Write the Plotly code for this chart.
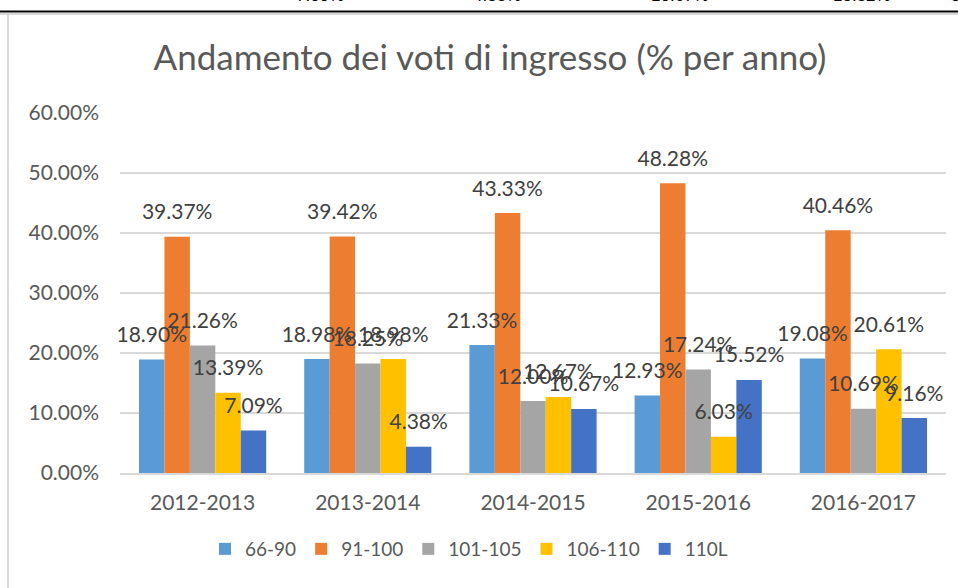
import plotly.graph_objects as go

years = ["2012-2013", "2013-2014", "2014-2015", "2015-2016", "2016-2017"]
series_names = ["66-90", "91-100", "101-105", "106-110", "110L"]
v_66_90 = [18.90, 18.98, 21.33, 12.93, 19.08]
v_91_100 = [39.37, 39.42, 43.33, 48.28, 40.46]
v_101_105 = [21.26, 18.25, 12.00, 17.24, 10.69]
v_106_110 = [13.39, 18.98, 12.67, 6.03, 20.61]
v_110L = [7.09, 4.38, 10.67, 15.52, 9.16]
y_ticks = [0, 10, 20, 30, 40, 50, 60]

colors = ["#5B9BD5", "#ED7D31", "#A5A5A5", "#FFC000", "#4472C4"]
all_values = [v_66_90, v_91_100, v_101_105, v_106_110, v_110L]

W, H = 958, 588
L, R, T, B = 120, 12, 113, 115
pw, ph = W - L - R, H - T - B

def px_x(p):
    return (p - L) / pw

def px_y(p):
    return (H - B - p) / ph

FONT = "Lato"
fig = go.Figure()

for name, vals, col in zip(series_names, all_values, colors):
    fig.add_trace(go.Bar(
        x=years, y=[v / 100 for v in vals], name=name,
        marker=dict(color=col, line=dict(width=0)),
        offsetgroup=name,
    ))

for name, vals, col in zip(series_names, all_values, colors):
    fig.add_trace(go.Scatter(
        x=years, y=[v / 100 for v in vals], mode="markers+text",
        text=[f"{v:.2f}%" for v in vals], textposition="top center",
        textfont=dict(family=FONT, size=21, color="#404040"),
        marker=dict(size=18, color="rgba(0,0,0,0)"),
        orientation="v", offsetgroup=name, showlegend=False,
        hoverinfo="skip", cliponaxis=False,
    ))

# partial row of a table above the chart (cut off at the top edge)
top_x = [320, 497, 680, 862, 975]
for xp, v in zip(top_x, v_110L):
    fig.add_annotation(x=px_x(xp), y=px_y(7), xref="paper", yref="paper",
                       text=f"{v:.2f}%", showarrow=False, xanchor="center", yanchor="bottom",
                       font=dict(family="Liberation Sans", size=17, color="#000000"))

shapes = [
    dict(type="line", xref="paper", yref="paper", x0=px_x(0), x1=px_x(W), y0=px_y(14), y1=px_y(14),
         line=dict(color="#D9D9D9", width=2)),
    dict(type="line", xref="paper", yref="paper", x0=px_x(0), x1=px_x(W), y0=px_y(11.5), y1=px_y(11.5),
         line=dict(color="#000000", width=2)),
    dict(type="line", xref="paper", yref="paper", x0=px_x(8), x1=px_x(8), y0=px_y(13), y1=px_y(H),
         line=dict(color="#D9D9D9", width=2)),
]

fig.update_layout(
    width=W, height=H,
    margin=dict(l=L, r=R, t=T, b=B, pad=0),
    paper_bgcolor="white", plot_bgcolor="white",
    barmode="group", bargap=0.23, bargroupgap=0,
    scattermode="group", scattergap=0.23,
    shapes=shapes,
    title=dict(text="Andamento dei voti di ingresso (% per anno)",
               x=490 / W, xanchor="center", xref="container",
               y=1 - 58 / H, yanchor="middle", yref="container",
               font=dict(family=FONT, size=35, color="#595959")),
    font=dict(family=FONT, color="#595959"),
    legend=dict(orientation="h", xref="container", yref="container",
                x=469 / W, xanchor="center", y=1 - 549 / H, yanchor="middle",
                font=dict(family=FONT, size=19, color="#595959"),
                traceorder="normal"),
    xaxis=dict(showgrid=False, showline=True, linecolor="#D9D9D9", linewidth=1.5,
               ticks="", tickfont=dict(family=FONT, size=21, color="#595959"),
               ticklabelstandoff=10),
    yaxis=dict(range=[0, 0.6], tickvals=[t / 100 for t in y_ticks],
               ticktext=[f"{t:.2f}%" for t in y_ticks],
               showgrid=True, gridcolor="#D9D9D9", gridwidth=1.5,
               zeroline=False, showline=False, ticks="",
               tickfont=dict(family=FONT, size=21, color="#595959"),
               ticklabelstandoff=20),
)

fig.write_html("out.html", config={"displayModeBar": False},
               post_script="document.body.style.margin='0';")
